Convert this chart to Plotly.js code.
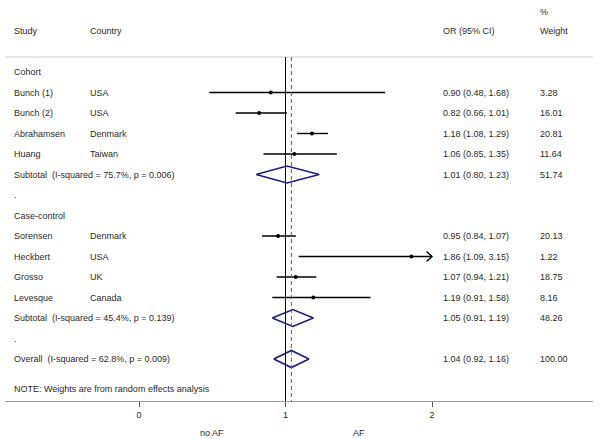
<!DOCTYPE html>
<html><head><meta charset="utf-8">
<script src="https://cdn.plot.ly/plotly-3.0.1.min.js"></script>
<style>body{margin:0;background:#fff}#chart{width:600px;height:439px}</style>
</head><body><div id="chart"></div>
<script>
// ---- data ----
const labels   = ["Cohort","Bunch (1)","Bunch (2)","Abrahamsen","Huang","Subtotal  (I-squared = 75.7%, p = 0.006)",".","Case-control","Sorensen","Heckbert","Grosso","Levesque","Subtotal  (I-squared = 45.4%, p = 0.139)",".","Overall  (I-squared = 62.8%, p = 0.009)"];
const countries= ["","USA","USA","Denmark","Taiwan","","","","Denmark","USA","UK","Canada","","",""];
const kinds    = ["head","study","study","study","study","pooled","blank","head","study","study","study","study","pooled","blank","pooled"];
const est      = [null,0.90,0.82,1.18,1.06,1.01,null,null,0.95,1.86,1.07,1.19,1.05,null,1.04];
const lo       = [null,0.48,0.66,1.08,0.85,0.80,null,null,0.84,1.09,0.94,0.91,0.91,null,0.92];
const hi       = [null,1.68,1.01,1.29,1.35,1.23,null,null,1.07,3.15,1.21,1.58,1.19,null,1.16];
const weights  = [null,3.28,16.01,20.81,11.64,51.74,null,null,20.13,1.22,18.75,8.16,48.26,null,100.00];
const overallEst = 1.04;
const xTicks = [0,1,2];
const xMax = 2;
const noteText = "NOTE: Weights are from random effects analysis";

// ---- geometry (pixels) ----
const W=600,H=439, mL=5, mR=7, mT=0, mB=38;
const x0px=139, unit=146.5; // pixel of value 0, pixels per unit
const row0px=72, rowH=20.5;
const xr=[(mL-x0px)/unit,(W-mR-x0px)/unit];
const plotH=H-mT-mB;
const yr=[(plotH-row0px)/rowH, (0-row0px)/rowH];
const rowOf = py => (py-row0px)/rowH;
const fnt={family:"Liberation Sans, Arial, sans-serif",size:9,color:"#2a2a2a"};

const traces=[]; const ann=[]; const shapes=[];
const ciX=[],ciY=[],ptX=[],ptY=[];
labels.forEach((lab,i)=>{
  ann.push({xref:'paper',yref:'y',x:(12-mL)/(W-mL-mR),y:i,text:lab,showarrow:false,xanchor:'left',yanchor:'middle',font:fnt});
  if(countries[i]) ann.push({xref:'paper',yref:'y',x:(88-mL)/(W-mL-mR),y:i,text:countries[i],showarrow:false,xanchor:'left',yanchor:'middle',font:fnt});
  if(est[i]!==null){
    ann.push({xref:'paper',yref:'y',x:(441-mL)/(W-mL-mR),y:i,text:est[i].toFixed(2)+" ("+lo[i].toFixed(2)+", "+hi[i].toFixed(2)+")",showarrow:false,xanchor:'left',yanchor:'middle',font:fnt});
    ann.push({xref:'paper',yref:'y',x:(538-mL)/(W-mL-mR),y:i,text:weights[i].toFixed(2),showarrow:false,xanchor:'left',yanchor:'middle',font:fnt});
  }
  if(kinds[i]==="study"){
    const h=Math.min(hi[i],xMax);
    ciX.push(lo[i],h,null); ciY.push(i,i,null);
    ptX.push(est[i]); ptY.push(i);
    if(hi[i]>xMax){
      const dx=5.5/unit, dy=5/rowH;
      ciX.push(xMax-dx,xMax,xMax-dx,null); ciY.push(i-dy,i,i+dy,null);
    }
  }
  if(kinds[i]==="pooled"){
    const hh=8.5/rowH;
    traces.push({type:'scatter',mode:'lines',x:[lo[i],est[i],hi[i],est[i],lo[i]],y:[i,i-hh,i,i+hh,i],
      line:{color:'#1c1c85',width:1.6},hoverinfo:'skip',showlegend:false,cliponaxis:false});
  }
});
traces.unshift({type:'scatter',mode:'lines',x:ciX,y:ciY,line:{color:'#000',width:1.4},hoverinfo:'skip',showlegend:false});
traces.push({type:'scatter',mode:'markers',x:ptX,y:ptY,marker:{color:'#000',size:4,symbol:'circle'},hoverinfo:'skip',showlegend:false});

// header texts
const hdr=(px,py,t)=>ann.push({xref:'paper',yref:'y',x:(px-mL)/(W-mL-mR),y:rowOf(py),text:t,showarrow:false,xanchor:'left',yanchor:'middle',font:fnt});
hdr(12,31,"Study"); hdr(88,31,"Country"); hdr(441,31,"OR (95% CI)"); hdr(538,12,"%"); hdr(538,31,"Weight");
ann.push({xref:'paper',yref:'y',x:(12-mL)/(W-mL-mR),y:rowOf(389),text:noteText,showarrow:false,xanchor:'left',yanchor:'middle',font:fnt});
ann.push({xref:'x',yref:'paper',x:0.5,y:-32/plotH,text:"no AF",showarrow:false,xanchor:'center',yanchor:'middle',font:fnt});
ann.push({xref:'x',yref:'paper',x:1.5,y:-32/plotH,text:"AF",showarrow:false,xanchor:'center',yanchor:'middle',font:fnt});

// lines
shapes.push({type:'line',xref:'paper',yref:'y',x0:0,x1:1,y0:rowOf(57),y1:rowOf(57),line:{color:'#d0d0d0',width:1}});
shapes.push({type:'line',xref:'x',yref:'y',x0:1,x1:1,y0:rowOf(57),y1:yr[0],line:{color:'#000',width:1}});
shapes.push({type:'line',xref:'x',yref:'y',x0:overallEst,x1:overallEst,y0:rowOf(57),y1:yr[0],line:{color:'#e8243a',width:1,dash:'4px,3px'}});

Plotly.newPlot('chart',traces,{
  width:W,height:H,margin:{l:mL,r:mR,t:mT,b:mB},paper_bgcolor:'#fff',plot_bgcolor:'#fff',
  xaxis:{range:xr,showgrid:false,zeroline:false,showline:true,linecolor:'#999',linewidth:1,
    tickvals:xTicks,ticktext:xTicks.map(String),ticks:'outside',ticklen:5,tickcolor:'#555',tickfont:fnt,fixedrange:true},
  yaxis:{range:yr,showgrid:false,zeroline:false,showline:false,showticklabels:false,ticks:'',fixedrange:true},
  annotations:ann,shapes:shapes,showlegend:false
},{staticPlot:true});
</script></body></html>
